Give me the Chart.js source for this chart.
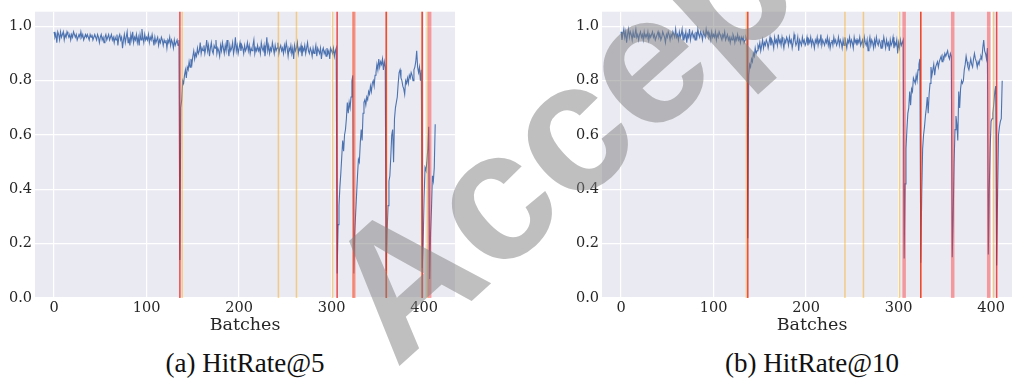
<!DOCTYPE html>
<html>
<head>
<meta charset="utf-8">
<script src="https://cdn.jsdelivr.net/npm/chart.js@4.4.1/dist/chart.umd.min.js"></script>
<style>
  html, body { margin: 0; padding: 0; background: #fff; overflow: hidden; width: 1012px; height: 384px; }
  .panel { position: absolute; top: 0; width: 470px; height: 336px; }
  .cap { position: absolute; top: 350px; font-family: 'Liberation Serif', serif; font-size: 27px; line-height: 1;
         color: #111; white-space: nowrap; transform: translateX(-50%); }
  #mark { position: absolute; left: 0; top: 0; pointer-events: none; }
</style>
</head>
<body>
<div class="panel" style="left:0"><canvas id="chart5" width="470" height="336"></canvas></div>
<div class="panel" style="left:567px"><canvas id="chart10" width="470" height="336"></canvas></div>
<div class="cap" style="left:245px">(a) HitRate@5</div>
<div class="cap" style="left:812px">(b) HitRate@10</div>
<svg id="mark" width="1012" height="384">
  <g opacity="0.5">
    <text transform="translate(396,369) rotate(-42)" font-family="Liberation Sans" font-weight="bold" font-size="184" fill="#808080">Accepted</text>
  </g>
</svg>

<script>
// HitRate@5 per batch (index = batch)
const hr5 = [
  .98,.96,.97,.94,.98,.97,.95,.98,.96,.97,.98,.95,.97,.96,.98,.97,.96,.97,.95,.97,
  .96,.98,.97,.96,.97,.95,.96,.97,.96,.98,.96,.97,.95,.96,.97,.96,.97,.96,.95,.97,
  .96,.97,.95,.96,.97,.96,.95,.97,.96,.94,.96,.97,.95,.96,.94,.96,.97,.95,.96,.97,
  .95,.96,.97,.95,.96,.94,.96,.95,.97,.93,.96,.97,.95,.96,.92,.95,.97,.94,.96,.98,
  .94,.96,.93,.97,.95,.98,.94,.96,.95,.97,.94,.96,.93,.97,.95,.99,.96,.94,.97,.95,
  .96,.95,.97,.94,.96,.95,.97,.95,.93,.96,.94,.95,.96,.93,.95,.94,.96,.95,.93,.95,
  .94,.95,.92,.95,.94,.96,.93,.95,.94,.92,.95,.93,.94,.95,.93,.95,
  .14,
  .70,.73,.80,.79,.82,.84,.81,.85,.84,.87,.85,.88,.86,.89,.91,.88,.90,.89,.92,.90,.91,.94,.90,
  .92,.91,.93,.90,.92,.95,.91,.93,.89,.92,.94,.91,.90,.93,.92,.95,.90,.92,.91,.89,
  .93,.91,.94,.92,.90,.93,.91,.95,.92,.89,.93,.91,.92,.94,.90,.92,.96,.91,.93,.90,
  .92,.94,.91,.93,.92,.90,.93,.91,.92,.94,.91,.93,.90,.92,.91,.93,.95,.90,.92,.91,
  .93,.91,.92,.90,.94,.92,.91,.93,.89,.92,.96,.91,.93,.90,.92,.91,.94,.92,.90,.93,
  .91,.92,.94,.90,.92,.93,.91,.92,.90,.93,.91,.94,.92,.89,.92,.91,.93,.90,.92,.88,
  .93,.91,.92,.94,.90,.92,.91,.93,.89,.92,.91,.93,.90,.92,.94,.91,.90,.92,.91,.89,
  .92,.90,.91,.93,.89,.92,.91,.90,.92,.88,.91,.92,.90,.91,.89,.92,.90,.91,.88,.92,
  .91,.90,.92,.89,.91,.92,
  .09,
  .27,.34,.41,.46,.52,.58,.54,.60,.62,.66,.72,.68,.72,.70,.74,.80,.82,
  .09,
  .24,.31,.38,.45,.51,.50,.57,.62,.58,.68,.72,.73,.71,.74,.73,.76,.75,.78,.76,.79,
  .80,.78,.82,.83,.86,.84,.88,.85,.87,.86,.88,.84,.87,.85,
  .10,
  .24,.34,.43,.45,.52,.60,.62,.50,.66,.70,.72,.74,.79,.83,.84,.81,.80,.78,.77,.75,
  .80,.79,.81,.79,.82,.81,.83,.82,.80,.84,.85,.87,.91,.85,.83,.85,.80,.84,
  .11,
  .20,.37,.48,.47,.50,.55,.63,
  .07,
  .24,.33,.45,.43,.48,.64
];

// HitRate@10 per batch
const hr10 = [
  .98,.95,.97,.99,.96,.98,.94,.97,.99,.96,.98,.97,.95,.98,.96,.97,.99,.96,.97,.95,
  .97,.98,.96,.97,.95,.98,.96,.97,.96,.98,.95,.97,.96,.97,.98,.96,.97,.95,.96,.97,
  .98,.96,.97,.95,.96,.98,.97,.96,.94,.97,.96,.98,.97,.95,.97,.96,.98,.97,.96,.99,
  .96,.97,.95,.98,.96,.97,.99,.95,.97,.96,.98,.94,.97,.96,.99,.95,.97,.98,.96,.97,
  .95,.98,.96,.99,.97,.96,.98,.97,.95,.98,.97,.96,.99,.97,.98,.96,.97,.95,.98,.96,
  .97,.96,.98,.95,.97,.96,.98,.97,.96,.95,.97,.96,.98,.95,.96,.97,.95,.96,.94,.96,
  .95,.97,.96,.94,.96,.95,.97,.95,.96,.94,.96,.95,.96,.94,.95,.96,.95,
  .22,
  .82,.86,.85,.88,.87,.90,.89,.92,.90,.91,.93,.92,.94,.91,.93,.95,.92,.94,.93,.95,.94,.92,
  .94,.96,.93,.95,.94,.92,.96,.94,.95,.93,.97,.94,.95,.93,.96,.94,.92,.95,.94,.96,
  .95,.93,.96,.94,.95,.92,.94,.97,.95,.93,.94,.96,.91,.95,.94,.93,.96,.94,.95,.93,
  .94,.96,.93,.95,.94,.96,.93,.95,.94,.92,.95,.94,.96,.93,.95,.94,.97,.93,.95,.94,
  .93,.95,.94,.96,.93,.95,.92,.94,.95,.93,.96,.94,.95,.93,.94,.96,.93,.95,.94,.92,
  .95,.93,.96,.94,.92,.95,.94,.96,.93,.95,.94,.92,.96,.94,.95,.93,.95,.94,.96,.93,
  .94,.95,.92,.96,.94,.93,.95,.91,.94,.96,.93,.95,.94,.92,.95,.93,.96,.94,.93,.95,
  .94,.92,.95,.93,.96,.94,.92,.95,.93,.94,.91,.95,.93,.94,.96,.92,.94,.93,.95,.90,
  .94,.92,.95,.93,.94,.95,
  .145,
  .42,.55,.62,.68,.70,.76,.71,.77,.76,.81,.80,.79,.82,.80,.84,.86,.88,
  .13,
  .38,.55,.60,.63,.67,.70,.74,.68,.75,.79,.85,.82,.84,.86,.82,.85,.86,.87,.85,.87,
  .88,.89,.87,.89,.88,.90,.89,.90,.91,.89,.88,.90,.89,
  .15,
  .30,.50,.62,.67,.64,.58,.76,.70,.77,.80,.79,.80,.84,.86,.89,.87,.85,.84,.86,.88,
  .86,.85,.88,.90,.88,.87,.85,.87,.86,.88,.89,.88,.92,.95,.91,.90,.88,.92,
  .16,
  .40,.55,.65,.66,.68,.72,.76,.78,
  .12,
  .38,.60,.63,.65,.66,.80
];

// batches where a drift was flagged (red) and where a warning was raised (orange)
const drift5 = [136, 306, 359, 398];
const driftSoft5 = [324, 406];
const warn5 = [138.5, 242.5, 262, 301, 324, 359.5, 397.5, 403.6];

const drift10 = [137, 324, 406];
const driftSoft10 = [306, 358.5, 397.4];
const warn10 = [135.5, 242, 262, 301, 324, 402.8];

const xTicks = [0, 100, 200, 300, 400];
const yTicks = [0, 0.2, 0.4, 0.6, 0.8, 1.0];

const tickFont = { family: 'DejaVu Serif', size: 14.5 };
const textColor = '#262626';

const bgPlugin = {
  id: 'bg',
  beforeDraw(chart) {
    const a = chart.chartArea;
    const c = chart.ctx;
    c.save();
    c.fillStyle = '#EAEAF2';
    c.fillRect(a.left, a.top, a.right - a.left, a.bottom - a.top);
    c.restore();
  }
};

function vlines(orange, soft, strong) {
  return {
    id: 'vlines',
    afterDatasetsDraw(chart) {
      const a = chart.chartArea;
      const c = chart.ctx;
      const xs = chart.scales.x;
      const draw = (list, color, width) => {
        c.save();
        c.strokeStyle = color;
        c.lineWidth = width;
        list.forEach(v => {
          const px = xs.getPixelForValue(v);
          c.beginPath();
          c.moveTo(px, a.top);
          c.lineTo(px, a.bottom);
          c.stroke();
        });
        c.restore();
      };
      draw(orange, 'rgba(255,165,0,0.45)', 1.5);
      draw(soft, 'rgba(255,40,40,0.42)', 3.5);
      draw(strong, 'rgba(235,20,20,0.75)', 1.5);
    }
  };
}

function makeChart(id, values, orange, soft, strong) {
  const pts = values.map((v, i) => ({ x: i, y: v }));
  return new Chart(document.getElementById(id), {
    type: 'line',
    data: {
      datasets: [{
        data: pts,
        borderColor: '#4C72B0',
        borderWidth: 1.1,
        pointRadius: 0,
        tension: 0,
        fill: false
      }]
    },
    options: {
      responsive: false,
      animation: false,
      layout: { padding: { top: 7, right: 15, left: 0, bottom: 0 } },
      plugins: { legend: { display: false }, tooltip: { enabled: false } },
      scales: {
        x: {
          type: 'linear',
          min: -20.6,
          max: 433.4,
          afterBuildTicks: s => { s.ticks = xTicks.map(v => ({ value: v })); },
          afterFit: s => { s.height = 38; },
          grid: { color: '#ffffff', lineWidth: 1.2, drawTicks: false },
          border: { display: false },
          ticks: { font: tickFont, color: textColor, padding: 2, maxRotation: 0 },
          title: { display: true, text: 'Batches', font: { family: 'DejaVu Serif', size: 17.5 }, color: textColor, padding: 0 }
        },
        y: {
          min: 0,
          max: 1.054,
          afterBuildTicks: s => { s.ticks = yTicks.map(v => ({ value: v })); },
          afterFit: s => { s.width = 35; },
          grid: { color: '#ffffff', lineWidth: 1.2, drawTicks: false },
          border: { display: false },
          ticks: { font: tickFont, color: textColor, padding: 3, callback: v => v.toFixed(1) }
        }
      }
    },
    plugins: [bgPlugin, vlines(orange, soft, strong)]
  });
}

makeChart('chart5', hr5, warn5, driftSoft5, drift5);
makeChart('chart10', hr10, warn10, driftSoft10, drift10);
</script>
</body>
</html>
